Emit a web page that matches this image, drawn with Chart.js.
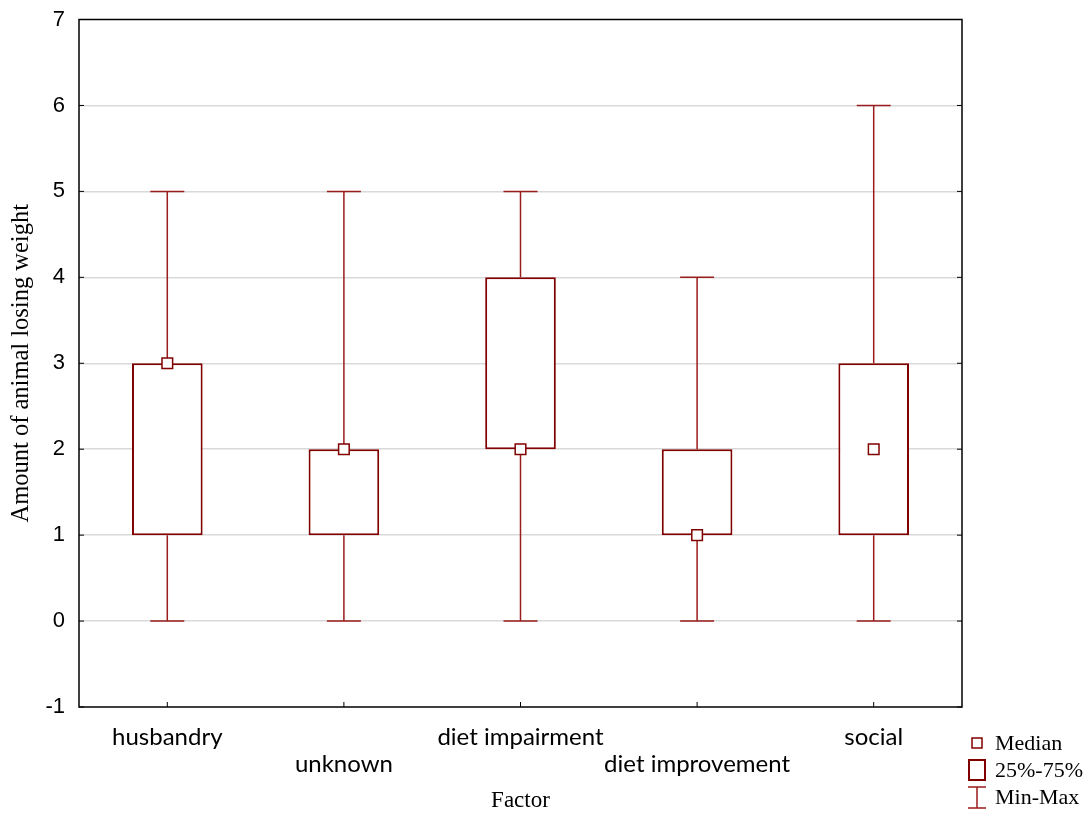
<!DOCTYPE html>
<html>
<head>
<meta charset="utf-8">
<script src="https://cdn.jsdelivr.net/npm/chart.js@4.4.1/dist/chart.umd.min.js"></script>
<style>
  html, body { margin: 0; padding: 0; background: #fff; }
  #wrap { width: 1092px; height: 818px; position: relative; }
</style>
</head>
<body>
<div id="wrap"><canvas id="chartBox" width="1092" height="818"></canvas></div>
<script>
// --- data ---
const factors = ['husbandry', 'unknown', 'diet impairment', 'diet improvement', 'social'];
const minVals = [0, 0, 0, 0, 0];
const q1Vals = [1, 1, 2, 1, 1];
const medianVals = [3, 2, 2, 1, 2];
const q3Vals = [3, 2, 4, 2, 3];
const maxVals = [5, 5, 5, 4, 6];
const yTicks = [-1, 0, 1, 2, 3, 4, 5, 6, 7];

// --- colours ---
const colorBox = '#800000';
const colorWhisker = '#9b1c1c';
const colorGrid = '#d9d9d9';

// whiskers, frame, inward ticks and legend
const boxExtras = {
    id: 'boxExtras',
    beforeDatasetsDraw(chart) {
        const { ctx, scales: { x, y } } = chart;
        ctx.save();
        ctx.strokeStyle = colorWhisker;
        ctx.lineWidth = 1.5;
        factors.forEach((f, i) => {
            const cx = x.getPixelForValue(i);
            const capHalf = 17;
            ctx.beginPath();
            ctx.moveTo(cx, y.getPixelForValue(q3Vals[i]));
            ctx.lineTo(cx, y.getPixelForValue(maxVals[i]));
            ctx.moveTo(cx, y.getPixelForValue(q1Vals[i]));
            ctx.lineTo(cx, y.getPixelForValue(minVals[i]));
            const yMax = y.getPixelForValue(maxVals[i]);
            const yMin = y.getPixelForValue(minVals[i]);
            ctx.moveTo(cx - capHalf, yMax);
            ctx.lineTo(cx + capHalf, yMax);
            ctx.moveTo(cx - capHalf, yMin);
            ctx.lineTo(cx + capHalf, yMin);
            ctx.stroke();
        });
        ctx.restore();
    },
    afterDraw(chart) {
        const { ctx, chartArea: a, scales: { x, y } } = chart;
        ctx.save();
        // frame
        ctx.strokeStyle = '#000';
        ctx.lineWidth = 1.5;
        ctx.strokeRect(a.left, a.top, a.right - a.left, a.bottom - a.top);
        // inward ticks
        ctx.lineWidth = 1;
        ctx.beginPath();
        yTicks.forEach(v => {
            const py = y.getPixelForValue(v);
            ctx.moveTo(a.left, py); ctx.lineTo(a.left + 5, py);
            ctx.moveTo(a.right, py); ctx.lineTo(a.right - 5, py);
        });
        factors.forEach((f, i) => {
            const px = x.getPixelForValue(i);
            ctx.moveTo(px, a.bottom); ctx.lineTo(px, a.bottom - 5);
        });
        ctx.stroke();

        // legend
        const lx = 977;
        ctx.strokeStyle = colorBox;
        ctx.lineWidth = 1.5;
        ctx.strokeRect(lx - 5, 738, 10, 10);
        ctx.lineWidth = 2;
        ctx.strokeRect(lx - 8, 760, 16, 20);
        ctx.lineWidth = 1.5;
        ctx.strokeStyle = colorWhisker;
        ctx.beginPath();
        ctx.moveTo(lx - 9, 787); ctx.lineTo(lx + 9, 787);
        ctx.moveTo(lx, 787); ctx.lineTo(lx, 808);
        ctx.moveTo(lx - 9, 808); ctx.lineTo(lx + 9, 808);
        ctx.stroke();
        ctx.fillStyle = '#000';
        ctx.font = '22px "Liberation Serif"';
        ctx.textBaseline = 'middle';
        ctx.fillText('Median', 995, 744);
        ctx.fillText('25%-75%', 995, 771);
        ctx.fillText('Min-Max', 995, 798);
        ctx.restore();
    }
};

document.addEventListener('DOMContentLoaded', function () {
    const ctxBox = document.getElementById('chartBox');
    new Chart(ctxBox, {
        data: {
            labels: factors,
            datasets: [
                {
                    type: 'line',
                    label: 'Median',
                    data: medianVals,
                    showLine: false,
                    pointStyle: 'rect',
                    pointRadius: 7.5,
                    pointBorderWidth: 1.5,
                    pointBorderColor: colorBox,
                    pointBackgroundColor: '#fff',
                    order: 0
                },
                {
                    type: 'bar',
                    label: '25%-75%',
                    data: q1Vals.map((v, i) => [v, q3Vals[i]]),
                    backgroundColor: '#fff',
                    borderColor: colorBox,
                    borderWidth: 2,
                    borderSkipped: false,
                    categoryPercentage: 1,
                    barPercentage: 0.4,
                    order: 1
                }
            ]
        },
        options: {
            responsive: false,
            animation: false,
            layout: { padding: { left: 0, top: 18, right: 130, bottom: 0 } },
            plugins: {
                legend: { display: false },
                tooltip: { enabled: false }
            },
            scales: {
                x: {
                    type: 'category',
                    offset: true,
                    grid: { display: false, drawTicks: false },
                    border: { display: false },
                    ticks: {
                        color: '#000',
                        autoSkip: false,
                        maxRotation: 0,
                        padding: 17,
                        font: { family: 'Lato', size: 24, lineHeight: 1.13 },
                        callback: function (v, i) {
                            return i % 2 === 1 ? ['', factors[i]] : factors[i];
                        }
                    },
                    title: {
                        display: true,
                        text: 'Factor',
                        color: '#000',
                        font: { family: 'Liberation Serif', size: 23 },
                        padding: { top: 0, bottom: 3 }
                    },
                    afterFit: s => { s.height = 111; }
                },
                y: {
                    min: -1,
                    max: 7,
                    grid: {
                        drawTicks: false,
                        lineWidth: 1.5,
                        color: ctx => (ctx.tick && (ctx.tick.value === -1 || ctx.tick.value === 7)) ? 'rgba(0,0,0,0)' : colorGrid
                    },
                    border: { display: false },
                    afterBuildTicks: s => { s.ticks = yTicks.map(v => ({ value: v })); },
                    ticks: {
                        color: '#000',
                        padding: 14,
                        font: { family: 'Liberation Sans', size: 22, lineHeight: 0.5 }
                    },
                    title: {
                        display: true,
                        text: 'Amount of animal losing weight',
                        color: '#000',
                        font: { family: 'Liberation Serif', size: 24.5 },
                        padding: { top: 7, bottom: 0 }
                    },
                    afterFit: s => { s.width = 79; }
                }
            }
        },
        plugins: [boxExtras]
    });
});
</script>
</body>
</html>
